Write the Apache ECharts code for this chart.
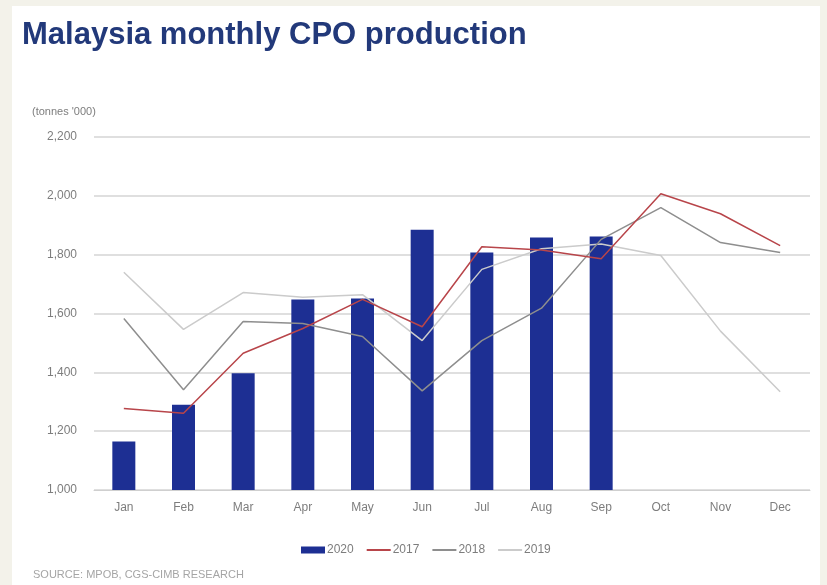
<!DOCTYPE html>
<html>
<head>
<meta charset="utf-8">
<script src="https://cdn.jsdelivr.net/npm/echarts@6/dist/echarts.min.js"></script>
<style>
  html, body { margin: 0; padding: 0; background: #f3f2ea; }
  #chart { width: 827px; height: 585px; }
</style>
</head>
<body>
<div id="chart"></div>
<script>
// Months on the category axis
const months = ['Jan', 'Feb', 'Mar', 'Apr', 'May', 'Jun', 'Jul', 'Aug', 'Sep', 'Oct', 'Nov', 'Dec'];

// Crude palm oil output, tonnes '000
const cpo2020 = [1165, 1290, 1397, 1648, 1651, 1885, 1807, 1858, 1862];
const cpo2017 = [1277, 1261, 1465, 1549, 1648, 1555, 1827, 1816, 1786, 2007, 1939, 1831];
const cpo2018 = [1583, 1341, 1573, 1566, 1522, 1337, 1508, 1618, 1852, 1960, 1841, 1807];
const cpo2019 = [1740, 1546, 1671, 1655, 1664, 1508, 1750, 1820, 1836, 1797, 1540, 1334];

// Value axis range and step
const yMin = 1000;
const yMax = 2200;
const yStep = 200;

const chart = echarts.init(document.getElementById('chart'), null, { renderer: 'canvas' });

const labelFont = { fontFamily: 'Liberation Sans, Arial, sans-serif', fontSize: 12, color: '#7d7d7d' };
const hiddenSymbol = { opacity: 0 };

chart.setOption({
  backgroundColor: '#f3f2ea',
  animation: false,
  graphic: [
    {
      type: 'rect',
      shape: { x: 12, y: 6, width: 808, height: 579 },
      style: { fill: '#ffffff' },
      z: -10
    },
    {
      type: 'text',
      left: 32,
      top: 106,
      style: { text: "(tonnes '000)", fill: '#7d7d7d', font: '11px Liberation Sans, Arial, sans-serif' }
    },
    {
      type: 'text',
      left: 33,
      top: 569,
      style: { text: 'SOURCE: MPOB, CGS-CIMB RESEARCH', fill: '#a5a5a5', font: '11px Liberation Sans, Arial, sans-serif' }
    }
  ],
  title: {
    text: 'Malaysia monthly CPO production',
    left: 17,
    top: 15,
    textStyle: {
      fontFamily: 'Liberation Sans, Arial, sans-serif',
      fontSize: 31,
      fontWeight: 'bold',
      color: '#22397a'
    }
  },
  legend: {
    left: 296,
    top: 539,
    itemGap: 12,
    itemWidth: 24,
    itemHeight: 7,
    textStyle: Object.assign({}, labelFont, { fontSize: 12, padding: [0, 0, 0, -3] }),
    data: [
      { name: '2020', icon: 'rect' },
      { name: '2017', itemStyle: hiddenSymbol },
      { name: '2018', itemStyle: hiddenSymbol },
      { name: '2019', itemStyle: hiddenSymbol }
    ]
  },
  grid: {
    left: 94,
    right: 17,
    top: 137,
    bottom: 95,
    containLabel: false
  },
  xAxis: {
    type: 'category',
    data: months,
    axisLine: { show: true, lineStyle: { color: '#cfcfcf', width: 1 } },
    axisTick: { show: false },
    axisLabel: Object.assign({}, labelFont, { margin: 12 }),
    splitLine: { show: false }
  },
  yAxis: {
    type: 'value',
    min: yMin,
    max: yMax,
    interval: yStep,
    axisLine: { show: false },
    axisTick: { show: false },
    axisLabel: Object.assign({}, labelFont, {
      margin: 17,
      formatter: v => v.toLocaleString('en-US')
    }),
    splitLine: { lineStyle: { color: '#d4d4d4', width: 1.5 } }
  },
  series: [
    {
      name: '2020',
      type: 'bar',
      data: cpo2020,
      barWidth: 23,
      itemStyle: { color: '#1d2f93' },
      z: 2
    },
    {
      name: '2017',
      type: 'line',
      data: cpo2017,
      symbol: 'none',
      lineStyle: { color: '#b8454a', width: 1.5 },
      itemStyle: { color: '#b8454a' },
      z: 5
    },
    {
      name: '2018',
      type: 'line',
      data: cpo2018,
      symbol: 'none',
      lineStyle: { color: '#8e8e8e', width: 1.5 },
      itemStyle: { color: '#8e8e8e' },
      z: 4
    },
    {
      name: '2019',
      type: 'line',
      data: cpo2019,
      symbol: 'none',
      lineStyle: { color: '#cbcbcb', width: 1.5 },
      itemStyle: { color: '#cbcbcb' },
      z: 3
    }
  ]
});
</script>
</body>
</html>
